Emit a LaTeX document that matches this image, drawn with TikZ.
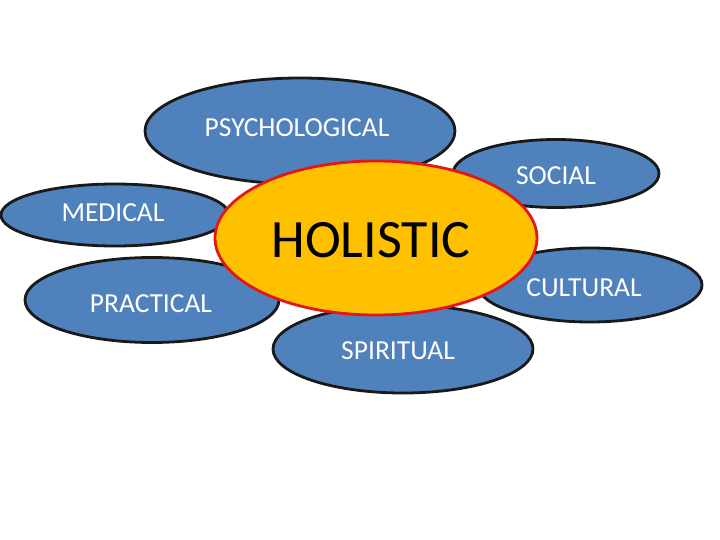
\documentclass[tikz,border=0pt]{standalone}
\usepackage{fontspec}
\setmainfont{Carlito}
\usetikzlibrary{shapes.geometric}
\definecolor{blobblue}{HTML}{4F81BD}
\definecolor{holfill}{HTML}{FFC000}
\definecolor{holline}{HTML}{E3171B}
\tikzset{
  blob/.style={ellipse, draw=black!90, line width=2.8pt, fill=blobblue, inner sep=0pt},
  hol/.style={ellipse, draw=holline, line width=2.8pt, fill=holfill, inner sep=0pt},
  lbl/.style={text=white, font=\fontsize{27.5}{27.5}\selectfont, inner sep=0pt},
  bigl/.style={text=black, font=\fontsize{54}{54}\selectfont, inner sep=0pt}
}
\begin{document}
\begin{tikzpicture}[x=1pt,y=-1pt]
\useasboundingbox (0,0) rectangle (720,540);
\node[blob, minimum width=310pt, minimum height=106pt] (psy) at (300,131) {};
\node[blob, minimum width=206pt, minimum height=68pt] (soc) at (556,173.5) {};
\node[blob, minimum width=228pt, minimum height=62pt] (med) at (115,215) {};
\node[blob, minimum width=254pt, minimum height=85pt] (pra) at (152,300) {};
\node[blob, minimum width=224pt, minimum height=74pt] (cul) at (590,285) {};
\node[blob, minimum width=260pt, minimum height=88pt] (spi) at (403,349) {};
\node[hol, minimum width=322pt, minimum height=154pt] (hol) at (376,238) {};
\node[lbl] (tpsy) at (297,128) {PSYCHOLOGICAL};
\node[lbl] (tsoc) at (556,176) {SOCIAL};
\node[lbl] (tmed) at (113,213) {MEDICAL};
\node[lbl] (tpra) at (151,304) {PRACTICAL};
\node[lbl] (tcul) at (584,288) {CULTURAL};
\node[lbl] (tspi) at (398,351) {SPIRITUAL};
\node[bigl] (thol) at (371,240) {HOLISTIC};
\end{tikzpicture}
\end{document}
